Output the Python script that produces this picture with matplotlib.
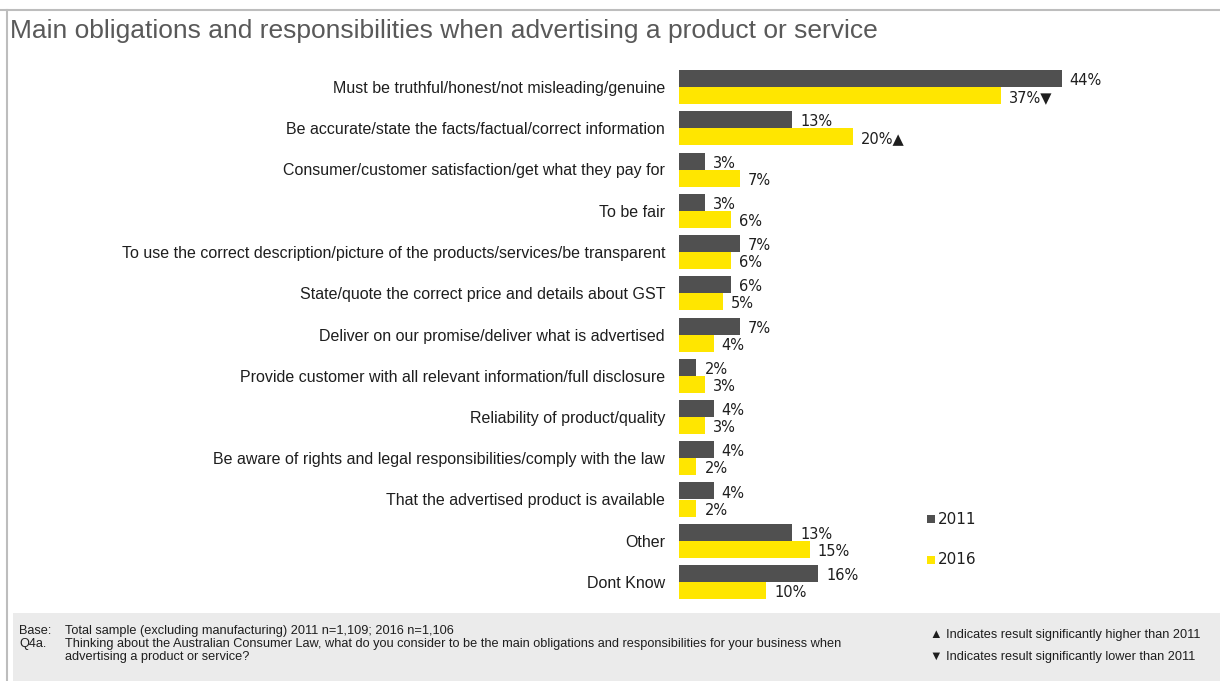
import matplotlib
matplotlib.use("Agg")
import matplotlib.pyplot as plt
from matplotlib.patches import Rectangle
from matplotlib.lines import Line2D

categories = [
    "Must be truthful/honest/not misleading/genuine",
    "Be accurate/state the facts/factual/correct information",
    "Consumer/customer satisfaction/get what they pay for",
    "To be fair",
    "To use the correct description/picture of the products/services/be transparent",
    "State/quote the correct price and details about GST",
    "Deliver on our promise/deliver what is advertised",
    "Provide customer with all relevant information/full disclosure",
    "Reliability of product/quality",
    "Be aware of rights and legal responsibilities/comply with the law",
    "That the advertised product is available",
    "Other",
    "Dont Know",
]
values_2011 = [44, 13, 3, 3, 7, 6, 7, 2, 4, 4, 4, 13, 16]
values_2016 = [37, 20, 7, 6, 6, 5, 4, 3, 3, 2, 2, 15, 10]
sig_2016 = ["▼", "▲", "", "", "", "", "", "", "", "", "", "", ""]
series_names = ["2011", "2016"]

DARK = "#505050"
YELLOW = "#FFE600"
TXT = "#1E1E1E"
FONT = ["Liberation Sans", "DejaVu Sans"]
NUMFONT = ["DejaVu Sans"]
plt.rcParams["font.family"] = FONT

W, H = 1220, 681
fig = plt.figure(figsize=(W / 100, H / 100), dpi=100)

def fx(px):
    return px / W

def fy(py):
    return 1 - py / H

# frame lines
fig.add_artist(Line2D([0, 1], [fy(10), fy(10)], color="#BDBDBD", lw=1.5))
fig.add_artist(Line2D([fx(7), fx(7)], [fy(10), 0], color="#BDBDBD", lw=1.5))
# footer panel
fig.add_artist(Rectangle((fx(13), 0), 1 - fx(13), fy(613), color="#EBEBEB", lw=0))

fig.text(fx(10), fy(31), "Main obligations and responsibilities when advertising a product or service",
         fontsize=19, color="#595959", va="center", ha="left")

# axes
n = len(categories)
row_px = 41.25
top_px = 87 - row_px / 2
bot_px = top_px + n * row_px
left_px = 679
scale = 8.7  # px per %
right_px = 1200
ax = fig.add_axes([fx(left_px), fy(bot_px), fx(right_px - left_px), (bot_px - top_px) / H])
ax.set_xlim(0, (right_px - left_px) / scale)
ax.set_ylim(n - 0.5, -0.5)
ax.axis("off")

bh = 17 / row_px
ys = list(range(n))
ax.barh([y - bh / 2 for y in ys], values_2011, height=bh, color=DARK, label=series_names[0])
ax.barh([y + bh / 2 for y in ys], values_2016, height=bh, color=YELLOW, label=series_names[1])

off = 8 / scale
for y, v in zip(ys, values_2011):
    ax.text(v + off, y - bh / 2 + 0.05, f"{v}%", va="center", ha="left", fontsize=10.5, color=TXT,
            family=NUMFONT)
for y, v, s in zip(ys, values_2016, sig_2016):
    ax.text(v + off, y + bh / 2 + 0.05, f"{v}%{s}", va="center", ha="left", fontsize=10.5, color=TXT,
            family=NUMFONT)
for y, c in zip(ys, categories):
    fig.text(fx(665), fy(top_px + (y + 0.5) * row_px + 1.5), c, ha="right", va="center", fontsize=11.5, color=TXT)

# legend
for i, (name, col) in enumerate(zip(series_names, [DARK, YELLOW])):
    yy = 519 + i * 41
    fig.add_artist(Rectangle((fx(927), fy(yy + 4)), fx(8), 8 / H, color=col, lw=0))
    fig.text(fx(938), fy(yy), name, fontsize=11, color=TXT, va="center", ha="left", family=NUMFONT)

# footer text
fs = 9.2
fig.text(fx(19), fy(631), "Base:", fontsize=fs, va="center", color=TXT)
fig.text(fx(65), fy(631), "Total sample (excluding manufacturing) 2011 n=1,109; 2016 n=1,106", fontsize=fs, va="center", color=TXT)
fig.text(fx(19), fy(644), "Q4a.", fontsize=fs, va="center", color=TXT)
fig.text(fx(65), fy(644), "Thinking about the Australian Consumer Law, what do you consider to be the main obligations and responsibilities for your business when",
         fontsize=fs, va="center", color=TXT)
fig.text(fx(65), fy(657), "advertising a product or service?", fontsize=fs, va="center", color=TXT)
fig.text(fx(930), fy(635), "▲ Indicates result significantly higher than 2011", fontsize=fs, va="center", color=TXT)
fig.text(fx(930), fy(657), "▼ Indicates result significantly lower than 2011", fontsize=fs, va="center", color=TXT)

fig.savefig("out.png", dpi=100)
